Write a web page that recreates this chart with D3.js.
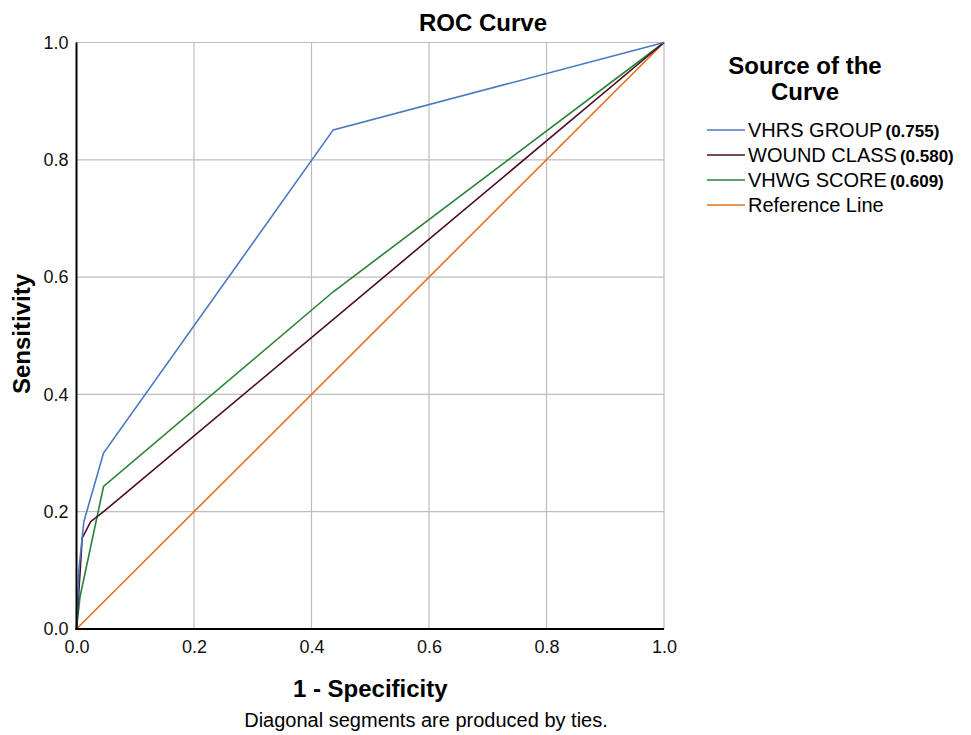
<!DOCTYPE html>
<html>
<head>
<meta charset="utf-8">
<script src="https://cdn.jsdelivr.net/npm/d3@7"></script>
<style>
  html, body { margin: 0; padding: 0; background: #fff; }
  svg { display: block; font-family: "Liberation Sans", Arial, sans-serif; }
</style>
</head>
<body>
<div id="chart"></div>
<script>
// ROC curve data (1 - specificity, sensitivity)
const seriesNames = ["VHRS GROUP", "WOUND CLASS", "VHWG SCORE", "Reference Line"];
const seriesAuc = ["(0.755)", "(0.580)", "(0.609)", ""];
const seriesColors = ["#4a78c0", "#4a0c24", "#2a8236", "#e8701e"];

const vhrsX = [0, 0.004, 0.0125, 0.046, 0.437, 1];
const vhrsY = [0, 0.10, 0.183, 0.30, 0.851, 1];
const woundX = [0, 0.0097, 0.024, 0.046, 1];
const woundY = [0, 0.155, 0.183, 0.20, 1];
const vhwgX = [0, 0.006, 0.046, 0.437, 1];
const vhwgY = [0, 0.055, 0.243, 0.575, 1];
const refX = [0, 1];
const refY = [0, 1];

const tickValues = [0, 0.2, 0.4, 0.6, 0.8, 1.0];

const width = 971, height = 735;
const plotLeft = 76.5, plotRight = 664, plotTop = 42.5, plotBottom = 629;

const svg = d3.select("#chart").append("svg")
  .attr("width", width)
  .attr("height", height);

const x = d3.scaleLinear().domain([0, 1]).range([plotLeft, plotRight]);
const y = d3.scaleLinear().domain([0, 1]).range([plotBottom, plotTop]);

// grid
const grid = svg.append("g");
grid.selectAll("line.gx")
  .data(tickValues.slice(1))
  .join("line")
  .attr("class", "gx")
  .attr("x1", d => x(d)).attr("x2", d => x(d))
  .attr("y1", plotTop).attr("y2", plotBottom)
  .attr("stroke", "#bdbdbd").attr("stroke-width", 1.2);
grid.selectAll("line.gy")
  .data(tickValues.slice(1))
  .join("line")
  .attr("class", "gy")
  .attr("x1", plotLeft).attr("x2", plotRight)
  .attr("y1", d => y(d)).attr("y2", d => y(d))
  .attr("stroke", "#bdbdbd").attr("stroke-width", 1.2);

// axes (no tick marks, labels only)
const xAxis = d3.axisBottom(x).tickValues(tickValues).tickFormat(d3.format(".1f")).tickSize(0).tickPadding(11);
const yAxis = d3.axisLeft(y).tickValues(tickValues).tickFormat(d3.format(".1f")).tickSize(0).tickPadding(8);

const gx = svg.append("g").attr("transform", `translate(0,${plotBottom})`).call(xAxis);
const gy = svg.append("g").attr("transform", `translate(${plotLeft},0)`).call(yAxis);
[gx, gy].forEach(g => {
  g.select(".domain").remove();
  g.selectAll("text")
    .attr("font-family", "'Liberation Sans', Arial, sans-serif")
    .attr("font-size", 18)
    .attr("fill", "#111");
});

// curves
const line = d3.line().x(d => x(d[0])).y(d => y(d[1]));
const curves = [
  { xs: refX, ys: refY, color: seriesColors[3] },
  { xs: vhwgX, ys: vhwgY, color: seriesColors[2] },
  { xs: woundX, ys: woundY, color: seriesColors[1] },
  { xs: vhrsX, ys: vhrsY, color: seriesColors[0] }
];
svg.append("g")
  .selectAll("path")
  .data(curves)
  .join("path")
  .attr("d", c => line(d3.zip(c.xs, c.ys)))
  .attr("fill", "none")
  .attr("stroke", c => c.color)
  .attr("stroke-width", 1.6);

// frame: black left/bottom axes
svg.append("line")
  .attr("x1", plotLeft).attr("x2", plotLeft).attr("y1", plotTop).attr("y2", plotBottom + 1)
  .attr("stroke", "#000").attr("stroke-width", 2);
svg.append("line")
  .attr("x1", plotLeft - 1).attr("x2", plotRight).attr("y1", plotBottom).attr("y2", plotBottom)
  .attr("stroke", "#000").attr("stroke-width", 2);

// titles
svg.append("text")
  .attr("x", 483).attr("y", 31)
  .attr("text-anchor", "middle")
  .attr("font-size", 24).attr("font-weight", "bold")
  .text("ROC Curve");

svg.append("text")
  .attr("x", (plotLeft + plotRight) / 2).attr("y", 697)
  .attr("text-anchor", "middle")
  .attr("font-size", 24).attr("font-weight", "bold")
  .text("1 - Specificity");

svg.append("text")
  .attr("transform", "translate(30,334) rotate(-90)")
  .attr("text-anchor", "middle")
  .attr("font-size", 24).attr("font-weight", "bold")
  .text("Sensitivity");

svg.append("text")
  .attr("x", 426).attr("y", 727)
  .attr("text-anchor", "middle")
  .attr("font-size", 20)
  .text("Diagonal segments are produced by ties.");

// legend
const legend = svg.append("g");
legend.append("text")
  .attr("x", 805).attr("y", 74)
  .attr("text-anchor", "middle")
  .attr("font-size", 24).attr("font-weight", "bold")
  .text("Source of the");
legend.append("text")
  .attr("x", 805).attr("y", 100)
  .attr("text-anchor", "middle")
  .attr("font-size", 24).attr("font-weight", "bold")
  .text("Curve");

const rowY = d3.scalePoint().domain(seriesNames).range([130, 205]);
const rows = legend.selectAll("g.row")
  .data(seriesNames)
  .join("g")
  .attr("class", "row")
  .attr("transform", d => `translate(0,${rowY(d)})`);
rows.append("line")
  .attr("x1", 707).attr("x2", 745)
  .attr("stroke", (d, i) => seriesColors[i])
  .attr("stroke-width", 1.6);
const rowText = rows.append("text")
  .attr("x", 748).attr("y", 7)
  .attr("font-size", 20);
rowText.append("tspan").text(d => d);
rowText.append("tspan")
  .attr("dx", 3)
  .attr("font-weight", "bold")
  .attr("font-size", 17)
  .text((d, i) => seriesAuc[i]);
</script>
</body>
</html>
